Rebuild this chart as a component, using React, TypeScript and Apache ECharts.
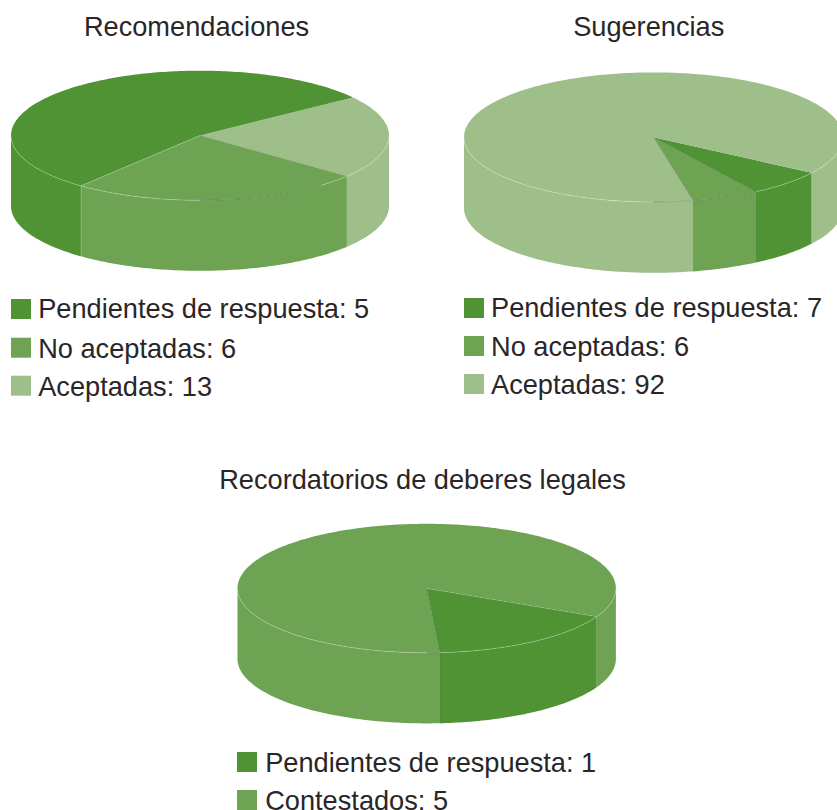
import React, { useEffect, useRef } from "react";
import * as echarts from "echarts";

const DARK = "#4f9335";
const MID = "#6ea354";
const LIGHT = "#9fbf8a";
const TEXT = "#2a2627";
const FONT = '27.2px "Liberation Sans", Arial, sans-serif';
const EDGE_LIGHT = "rgba(255,255,255,0.4)";
const EDGE_GREY = "rgba(70,70,70,0.4)";

const titles = ["Recomendaciones", "Sugerencias", "Recordatorios de deberes legales"];

const recomendacionesLabels = ["Pendientes de respuesta", "No aceptadas", "Aceptadas"];
const recomendacionesValues = [5, 6, 13];
const recomendacionesLegendColors = [DARK, MID, LIGHT];
const recomendacionesSliceColors = [LIGHT, MID, DARK];

const sugerenciasLabels = ["Pendientes de respuesta", "No aceptadas", "Aceptadas"];
const sugerenciasValues = [7, 6, 92];
const sugerenciasColors = [DARK, MID, LIGHT];

const recordatoriosLabels = ["Pendientes de respuesta", "Contestados"];
const recordatoriosValues = [1, 5];
const recordatoriosColors = [DARK, MID];

type Layout = {
  name: string;
  values: number[];
  sliceColors: string[];
  cx: number; cy: number; rx: number; ry: number; depth: number;
  startAngle: number;
  rimGreyFrom: number;
  radialEdges: (string | null)[];
  wallEdges: (string | null)[];
};

const pies: Layout[] = [
  {
    name: titles[0], values: recomendacionesValues, sliceColors: recomendacionesSliceColors,
    cx: 200, cy: 135.5, rx: 189, ry: 64.8, depth: 70.5, startAngle: -36, rimGreyFrom: 50,
    radialEdges: [null, "rgba(70,70,70,0.2)", EDGE_LIGHT],
    wallEdges: [null, null, EDGE_LIGHT],
  },
  {
    name: titles[1], values: sugerenciasValues, sliceColors: sugerenciasColors,
    cx: 653.5, cy: 137.2, rx: 189.5, ry: 64.8, depth: 70.8, startAngle: 33.4, rimGreyFrom: 57,
    radialEdges: [null, EDGE_GREY, EDGE_GREY],
    wallEdges: [null, EDGE_GREY, null],
  },
  {
    name: titles[2], values: recordatoriosValues, sliceColors: recordatoriosColors,
    cx: 426.7, cy: 588.3, rx: 189.2, ry: 64.5, depth: 70.6, startAngle: 26, rimGreyFrom: 86,
    radialEdges: [EDGE_LIGHT, EDGE_GREY],
    wallEdges: [null, EDGE_GREY],
  },
];

const titlePos = [
  { x: 196.5, y: 36 },
  { x: 648.7, y: 36 },
  { x: 422.5, y: 489 },
];

const legends = [
  {
    labels: recomendacionesLabels, values: recomendacionesValues, colors: recomendacionesLegendColors,
    boxX: 11, boxY: [299, 337.7, 375.7], textX: 38.2, baseY: [318.4, 357.7, 395.7],
  },
  {
    labels: sugerenciasLabels, values: sugerenciasValues, colors: sugerenciasColors,
    boxX: 464, boxY: [298, 336, 374], textX: 491, baseY: [316.9, 355.7, 393.5],
  },
  {
    labels: recordatoriosLabels, values: recordatoriosValues, colors: recordatoriosColors,
    boxX: 237, boxY: [752, 790], textX: 265.2, baseY: [771.9, 809.5],
  },
];

function arc(p: Layout, from: number, to: number, dy = 0): number[][] {
  const out: number[][] = [];
  const n = Math.max(2, Math.ceil(Math.abs(to - from)));
  for (let i = 0; i <= n; i++) {
    const a = ((from + ((to - from) * i) / n) * Math.PI) / 180;
    out.push([p.cx + p.rx * Math.cos(a), p.cy + p.ry * Math.sin(a) + dy]);
  }
  return out;
}

function frontRanges(s: number, e: number, lo = 0, hi = 180): [number, number][] {
  const r: [number, number][] = [];
  for (const k of [-360, 0, 360]) {
    const a = Math.max(s, k + lo);
    const b = Math.min(e, k + hi);
    if (b > a) r.push([a, b]);
  }
  return r;
}

function pieRenderer(p: Layout) {
  const total = p.values.reduce((a, b) => a + b, 0);
  return (params: any, api: any) => {
    const i = params.dataIndex;
    let before = 0;
    for (let j = 0; j < i; j++) before += p.values[j];
    const s = p.startAngle + (before / total) * 360;
    const e = s + (api.value(0) / total) * 360;
    const fill = p.sliceColors[i];
    const children: any[] = [];
    // walls
    for (const [a, b] of frontRanges(s, e)) {
      const top = arc(p, a, b);
      const bottom = arc(p, b, a, p.depth);
      children.push({ type: "polygon", silent: true, shape: { points: [...top, ...bottom] }, style: { fill } });
    }
    // top
    children.push({
      type: "polygon", silent: true,
      shape: { points: [[p.cx, p.cy], ...arc(p, s, e)] },
      style: { fill },
    });
    // rim highlights
    const rim = (lo: number, hi: number, stroke: string) => {
      for (const [a, b] of frontRanges(s, e, lo, hi)) {
        children.push({
          type: "polyline", silent: true, shape: { points: arc(p, a, b) },
          style: { fill: "none", stroke, lineWidth: 0.6 },
        });
      }
    };
    rim(0, p.rimGreyFrom, EDGE_LIGHT);
    rim(p.rimGreyFrom, 90, EDGE_GREY);
    rim(90, 180, EDGE_LIGHT);
    // edges at the start of this slice
    const [pt] = arc(p, s, s + 1);
    if (p.radialEdges[i]) {
      children.push({
        type: "line", silent: true,
        shape: { x1: p.cx, y1: p.cy, x2: pt[0], y2: pt[1] },
        style: { stroke: p.radialEdges[i], lineWidth: 0.6 },
      });
    }
    if (p.wallEdges[i]) {
      children.push({
        type: "line", silent: true,
        shape: { x1: pt[0], y1: pt[1], x2: pt[0], y2: pt[1] + p.depth },
        style: { stroke: p.wallEdges[i], lineWidth: 0.6 },
      });
    }
    return { type: "group", children };
  };
}

// Vertical offset from the alphabetic baseline to the "middle" anchor used below.
const BASE_TO_MIDDLE = 9.5;

function legendGraphics() {
  const out: any[] = [];
  legends.forEach((l) => {
    l.labels.forEach((label, i) => {
      out.push({
        type: "rect", silent: true,
        shape: { x: l.boxX, y: l.boxY[i], width: 20, height: 20 },
        style: { fill: l.colors[i] },
      });
      out.push({
        type: "text", silent: true,
        style: {
          text: `${label}: ${l.values[i]}`, x: l.textX, y: l.baseY[i] - BASE_TO_MIDDLE,
          font: FONT, fill: TEXT, align: "left", verticalAlign: "middle",
        },
      });
    });
  });
  titles.forEach((t, i) => {
    out.push({
      type: "text", silent: true,
      style: {
        text: t, x: titlePos[i].x, y: titlePos[i].y - BASE_TO_MIDDLE,
        font: FONT, fill: TEXT, align: "center", verticalAlign: "middle",
      },
    });
  });
  return out;
}

export default function App() {
  const ref = useRef<HTMLDivElement>(null);
  useEffect(() => {
    if (!ref.current) return;
    document.body.style.margin = "0";
    document.documentElement.style.overflow = "hidden";
    const chart = echarts.init(ref.current, undefined, { renderer: "svg" });
    chart.setOption({
      animation: false,
      backgroundColor: "#ffffff",
      tooltip: { show: false },
      series: pies.map((p) => ({
        type: "custom",
        name: p.name,
        coordinateSystem: "none",
        data: p.values,
        clip: false,
        renderItem: pieRenderer(p),
      })),
      graphic: legendGraphics(),
    });
    return () => chart.dispose();
  }, []);
  return (
    <div
      ref={ref}
      style={{ width: 837, height: 810, background: "#fff", overflow: "hidden" }}
    />
  );
}
